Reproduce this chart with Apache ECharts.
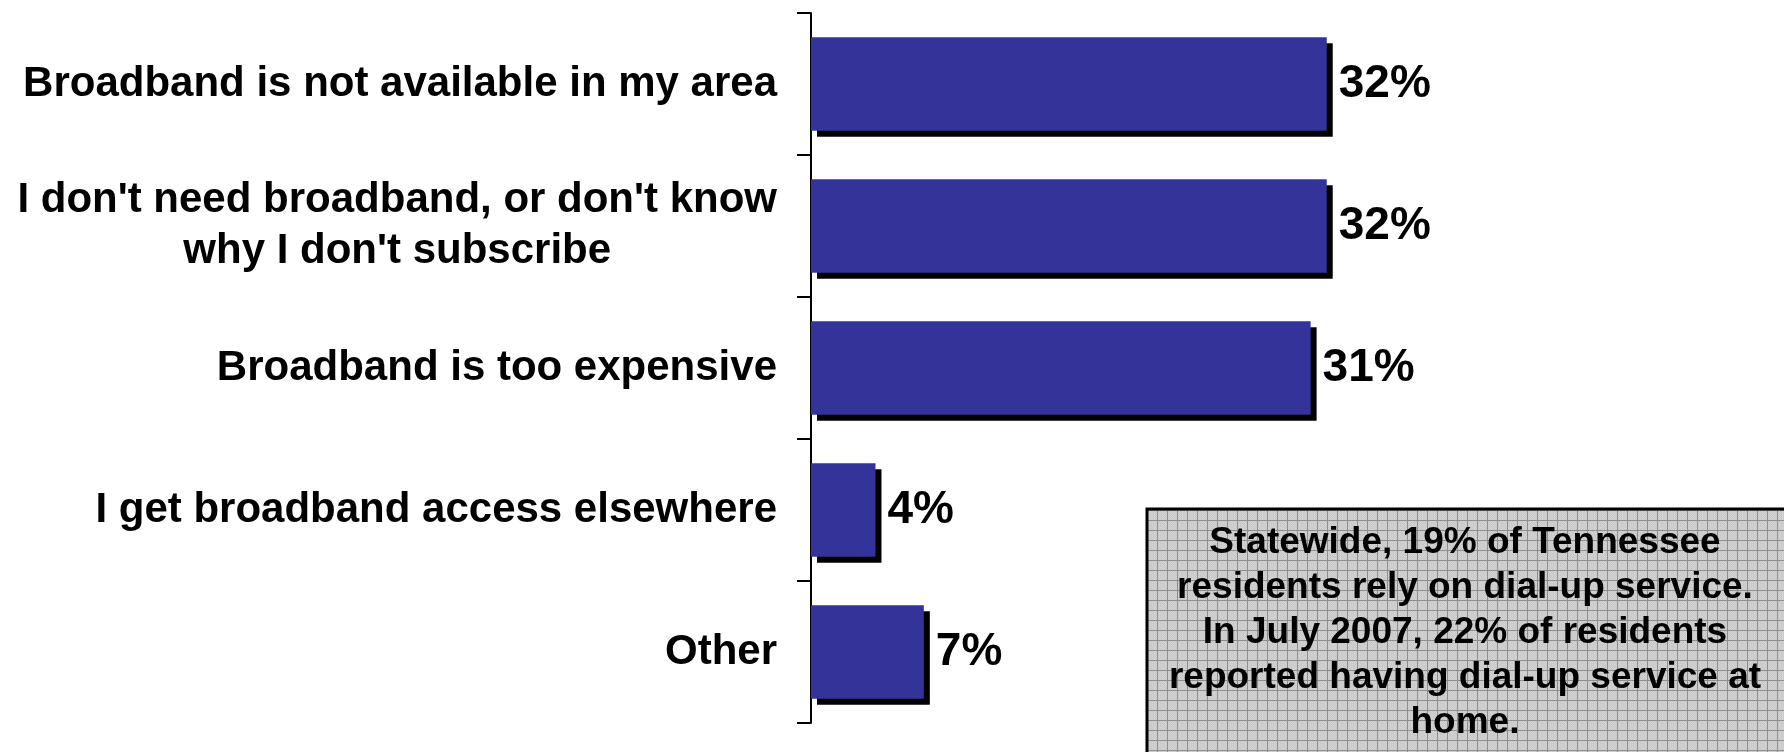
<!DOCTYPE html>
<html>
<head>
<meta charset="utf-8">
<script src="https://cdn.jsdelivr.net/npm/echarts@6/dist/echarts.min.js"></script>
<style>
  html, body { margin: 0; padding: 0; background: #ffffff; }
  #chart { width: 1784px; height: 752px; }
</style>
</head>
<body>
<div id="chart"></div>
<script>
// ---- data ----
const categories = [
  'Broadband is not available in my area',
  "I don't need broadband, or don't know\nwhy I don't subscribe",
  'Broadband is too expensive',
  'I get broadband access elsewhere',
  'Other'
];
const values = [32, 32, 31, 4, 7];
const noteLines = [
  'Statewide, 19% of Tennessee',
  'residents rely on dial-up service.',
  'In July 2007, 22% of residents',
  'reported having dial-up service at',
  'home.'
];

const FONT = "'Liberation Sans', Arial, Helvetica, sans-serif";

// patterned fill for the note box
function makePattern() {
  const c = document.createElement('canvas');
  c.width = 10; c.height = 10;
  const ctx = c.getContext('2d');
  ctx.fillStyle = '#c9c9c9';
  ctx.fillRect(0, 0, 10, 10);
  for (let y = 0; y < 10; y++) {
    for (let x = 0; x < 10; x++) {
      if ((x + y) % 2 === 0) { ctx.fillStyle = '#d2d2d2'; ctx.fillRect(x, y, 1, 1); }
    }
  }
  ctx.fillStyle = '#8e8e8e';
  ctx.fillRect(7, 0, 1, 10);
  ctx.fillRect(0, 0, 10, 1);
  return c;
}

const chart = echarts.init(document.getElementById('chart'), null, { renderer: 'canvas' });

const option = {
  backgroundColor: '#ffffff',
  animation: false,
  grid: { left: 811, right: 6, top: 13, bottom: 29, containLabel: false },
  xAxis: {
    type: 'value', min: 0, max: 60, show: false,
    splitLine: { show: false }
  },
  yAxis: {
    type: 'category',
    data: categories,
    inverse: true,
    axisLine: { show: true, lineStyle: { color: '#000', width: 2 } },
    axisTick: { show: true, length: 14, lineStyle: { color: '#000', width: 2 } },
    axisLabel: {
      interval: 0,
      margin: 34,
      fontFamily: FONT,
      fontWeight: 'bold',
      fontSize: 42,
      color: '#000',
      formatter: function (v) {
        return v.split('\n').map(s => '{c|' + s + '}').join('\n');
      },
      rich: {
        c: { fontFamily: FONT, fontWeight: 'bold', fontSize: 42, lineHeight: 51, color: '#000', align: 'center' }
      }
    }
  },
  series: [{
    type: 'bar',
    data: values,
    barCategoryGap: '34%',
    itemStyle: {
      color: '#333399',
      borderWidth: 0,
      shadowColor: '#000000',
      shadowBlur: 0,
      shadowOffsetX: 6,
      shadowOffsetY: 6
    },
    label: {
      show: true,
      position: 'right',
      distance: 12,
      formatter: '{c}%',
      fontFamily: FONT,
      fontWeight: 'bold',
      fontSize: 46,
      color: '#000'
    }
  }],
  graphic: [
    {
      type: 'rect',
      z: 10,
      shape: { x: 1147, y: 509, width: 700, height: 300 },
      style: { fill: { image: makePattern(), repeat: 'repeat' }, stroke: '#000', lineWidth: 3 }
    },
    {
      type: 'text',
      z: 11,
      x: 1465,
      y: 633,
      style: {
        text: noteLines.join('\n'),
        align: 'center',
        verticalAlign: 'middle',
        fontFamily: FONT,
        fontWeight: 'bold',
        fontSize: 37,
        lineHeight: 45,
        fill: '#000'
      }
    }
  ]
};

chart.setOption(option);
</script>
</body>
</html>
